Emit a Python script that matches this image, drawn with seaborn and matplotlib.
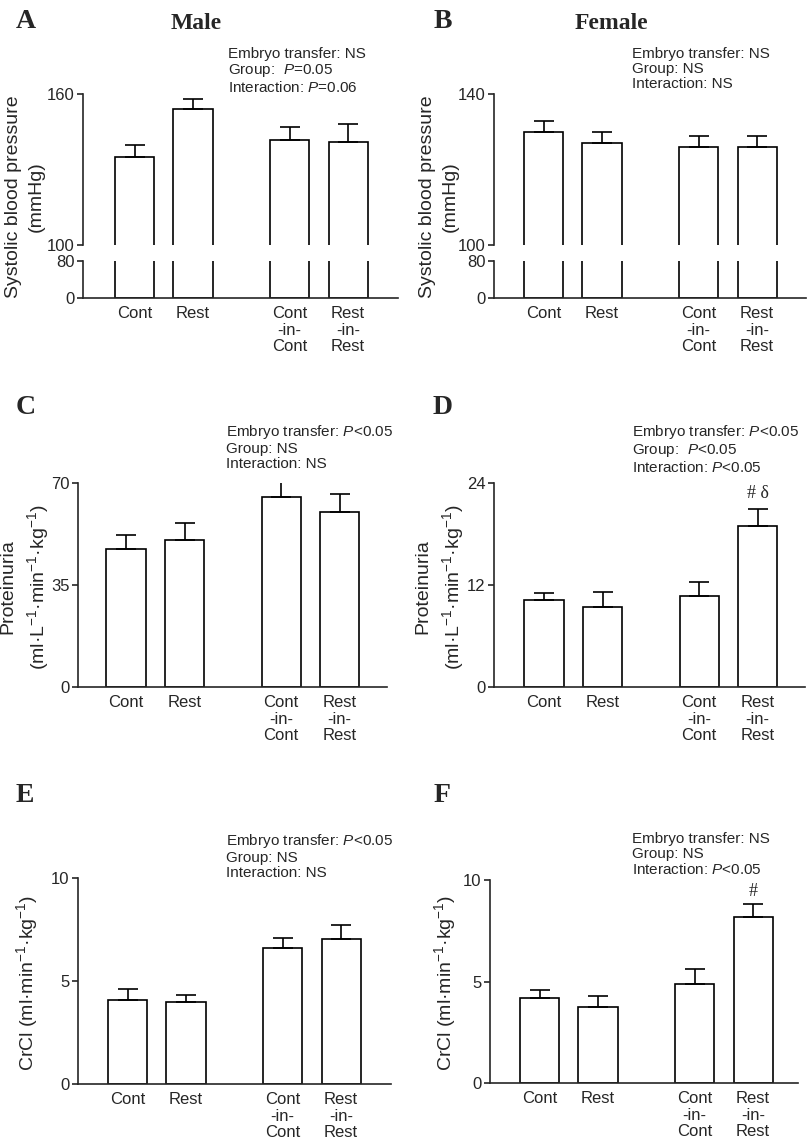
"""
Six-panel bar figure: systolic blood pressure, proteinuria and creatinine
clearance in male and female offspring (Cont, Rest, Cont-in-Cont,
Rest-in-Rest). Saves out.png.
"""
import matplotlib
matplotlib.use("Agg")
import matplotlib.pyplot as plt
import numpy as np
import seaborn as sns

# ---- data ----
groups = ["Cont", "Rest", "Cont\n-in-\nCont", "Rest\n-in-\nRest"]

sbp_male = [135.0, 154.0, 141.8, 141.0]
sbp_male_sem = [4.7, 4.0, 5.1, 7.0]
sbp_female = [129.9, 127.0, 126.0, 126.0]
sbp_female_sem = [3.0, 2.9, 2.9, 2.9]

prot_male = [47.2, 50.3, 65.2, 60.1]
prot_male_sem = [5.0, 6.0, 5.0, 6.1]
prot_female = [10.2, 9.4, 10.7, 18.9]
prot_female_sem = [0.9, 1.8, 1.7, 2.0]

crcl_male = [4.09, 3.99, 6.60, 7.02]
crcl_male_sem = [0.52, 0.31, 0.49, 0.70]
crcl_female = [4.19, 3.72, 4.90, 8.20]
crcl_female_sem = [0.41, 0.59, 0.71, 0.61]

stats_a = "Embryo transfer: NS\nGroup:  $P$=0.05\nInteraction: $P$=0.06"
stats_b = "Embryo transfer: NS\nGroup: NS\nInteraction: NS"
stats_c = "Embryo transfer: $P$<0.05\nGroup: NS\nInteraction: NS"
stats_d = "Embryo transfer: $P$<0.05\nGroup:  $P$<0.05\nInteraction: $P$<0.05"
stats_e = "Embryo transfer: $P$<0.05\nGroup: NS\nInteraction: NS"
stats_f = "Embryo transfer: NS\nGroup: NS\nInteraction: $P$<0.05"

# ---- layout ----
W, H = 807, 1146
GROUP_X = [0, 1, 2.65, 3.65]
BAR_W = 0.667
SCALE = 58.5  # px per x unit
LW = 1.2

sns.set_theme(style="ticks")
plt.rcParams["font.family"] = ["Liberation Sans", "DejaVu Sans"]
plt.rcParams["mathtext.fontset"] = "custom"
plt.rcParams["mathtext.rm"] = "Liberation Sans"
plt.rcParams["mathtext.it"] = "Liberation Sans:italic"
plt.rcParams["axes.linewidth"] = LW

fig = plt.figure(figsize=(W / 100, H / 100), dpi=100)


def px_axes(left, top, right, bottom):
    return fig.add_axes([left / W, 1 - bottom / H, (right - left) / W, (bottom - top) / H])


def set_xlim(ax, left, right, c0):
    x0 = -(c0 - left) / SCALE
    ax.set_xlim(x0, x0 + (right - left) / SCALE)


def style(ax, bottom=True):
    sns.despine(ax=ax, bottom=not bottom)
    ax.tick_params(axis="y", direction="out", length=4, width=LW, pad=2, labelsize=12)
    if bottom:
        ax.set_xticks(GROUP_X)
        ax.set_xticklabels(groups, fontsize=12, linespacing=1.1)
        ax.tick_params(axis="x", length=0, pad=6)
    else:
        ax.set_xticks([])
    ax.set(xlabel="", ylabel="")


def draw_bars(ax, vals, errs):
    sns.barplot(x=GROUP_X, y=vals, native_scale=True, width=BAR_W, color="white",
                saturation=1, edgecolor="black", linewidth=LW, errorbar=None, ax=ax)
    ax.errorbar(GROUP_X, vals, yerr=[np.zeros(len(vals)), errs], fmt="none",
                ecolor="black", elinewidth=LW, capsize=7, capthick=LW)


def broken_panel(left, right, c0, vals, errs, top_max):
    up = px_axes(left, 94, right, 245)
    lo = px_axes(left, 261, right, 298)
    draw_bars(up, vals, errs)
    draw_bars(lo, vals, errs)
    up.set_ylim(100, top_max)
    up.set_yticks([100, top_max])
    lo.set_ylim(0, 80)
    lo.set_yticks([0, 80])
    for ax in (up, lo):
        set_xlim(ax, left, right, c0)
    style(up, bottom=False)
    style(lo, bottom=True)
    return up


def panel(left, top, right, bottom, c0, vals, errs, ymax, ticks):
    ax = px_axes(left, top, right, bottom)
    draw_bars(ax, vals, errs)
    ax.set_ylim(0, ymax)
    ax.set_yticks(ticks)
    set_xlim(ax, left, right, c0)
    style(ax)
    return ax


def fig_text(x, y, s, **kw):
    fig.text(x / W, 1 - y / H, s, **kw)


# ---- panels ----
broken_panel(83, 398, 134.5, sbp_male, sbp_male_sem, 160)
broken_panel(494, 806, 543.5, sbp_female, sbp_female_sem, 140)
panel(78, 483, 387, 687, 126, prot_male, prot_male_sem, 70, [0, 35, 70])
ax_d = panel(494, 483, 805, 687, 544, prot_female, prot_female_sem, 24, [0, 12, 24])
panel(78, 878, 391, 1084, 127.5, crcl_male, crcl_male_sem, 10, [0, 5, 10])
ax_f = panel(490, 880, 798, 1083, 539.5, crcl_female, crcl_female_sem, 10, [0, 5, 10])

# significance marks above Rest-in-Rest
ax_d.annotate("# \u03b4", (GROUP_X[3], prot_female[3] + prot_female_sem[3]),
              xytext=(0, 5), textcoords="offset points", ha="center", va="bottom",
              fontsize=13, family=["Liberation Serif", "DejaVu Serif"])
ax_f.annotate("#", (GROUP_X[3], crcl_female[3] + crcl_female_sem[3]),
              xytext=(0, 3), textcoords="offset points", ha="center", va="bottom",
              fontsize=13, family=["Liberation Serif", "DejaVu Serif"])

# y labels
ylab = dict(rotation=90, ha="center", va="center", fontsize=14, linespacing=1.45)
fig_text(25, 197, "Systolic blood pressure\n(mmHg)", **ylab)
fig_text(439, 197, "Systolic blood pressure\n(mmHg)", **ylab)
prot_label = "Proteinuria\n(ml\u00b7L$^{-1}$\u00b7min$^{-1}$\u00b7kg$^{-1}$)"
fig_text(25, 587, prot_label, **ylab)
fig_text(440, 587, prot_label, **ylab)
crcl_label = "CrCl (ml\u00b7min$^{-1}$\u00b7kg$^{-1}$)"
fig_text(27, 983, crcl_label, **ylab)
fig_text(445, 983, crcl_label, **ylab)

# statistics text
st = dict(ha="left", va="top", fontsize=11, linespacing=1.1)
fig_text(228, 47, stats_a, **st)
fig_text(632, 47, stats_b, **st)
fig_text(226, 423, stats_c, **st)
fig_text(632, 423, stats_d, **st)
fig_text(226, 832, stats_e, **st)
fig_text(632, 832, stats_f, **st)

# panel letters and titles
serif_bold = dict(family=["Liberation Serif", "DejaVu Serif"], weight="bold", va="top")
for letter, x, y in [("A", 16, 9), ("B", 434, 9), ("C", 16, 395),
                     ("D", 433, 395), ("E", 16, 783), ("F", 434, 783)]:
    fig_text(x, y, letter, fontsize=20, ha="left", **serif_bold)
fig_text(196, 13, "Male", fontsize=17, ha="center", **serif_bold)
fig_text(611, 13, "Female", fontsize=17, ha="center", **serif_bold)

fig.savefig("out.png", dpi=100)
